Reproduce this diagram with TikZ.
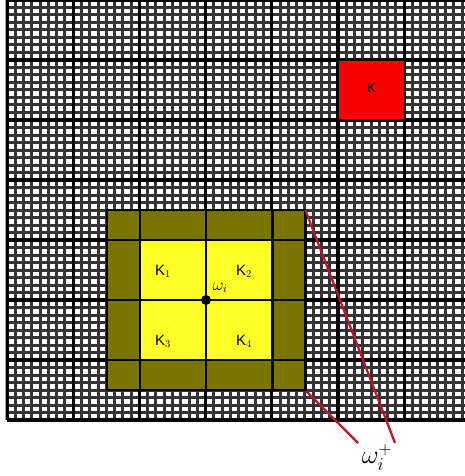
\RequirePackage{fix-cm}
\documentclass[tikz,border=0pt]{standalone}
\usepackage{fontspec}
\setmainfont{Liberation Sans}
\definecolor{olivebox}{RGB}{122,116,0}
\definecolor{yellowbox}{RGB}{255,255,40}
\definecolor{redbox}{RGB}{250,0,0}
\definecolor{redline}{RGB}{196,16,40}
\begin{document}
\begin{tikzpicture}[x=1pt,y=-1pt,
  fine/.style={line width=3pt,black!80},
  coarse/.style={line width=3.2pt,black},
  patchline/.style={line width=2.6pt,black},
  lbl/.style={font=\fontsize{15}{15}\selectfont,inner sep=0pt},
  conn/.style={redline,line width=2.2pt}]
\useasboundingbox (0,0) rectangle (464,476);
\fill[white] (0,0) rectangle (464,476);
\begin{scope}
\clip (5.5,-2) rectangle (466,421.5);
\foreach \i in {0,...,57} \draw[fine] ({7+\i*8.275},0) -- ({7+\i*8.275},420);
\foreach \j in {0,...,56} \draw[fine] (7,{420-\j*7.5}) -- (466,{420-\j*7.5});
\foreach \i in {0,...,7} \draw[coarse] ({7+\i*66.2},0) -- ({7+\i*66.2},420);
\foreach \j in {0,...,7} \draw[coarse] (7,{420-\j*60}) -- (466,{420-\j*60});
\end{scope}
% red K cell
\fill[redbox,draw=black,line width=1.5pt] (338.6,60) rectangle (404.8,120);
\node[font=\fontsize{13}{13}\selectfont] (k) at (371.5,88) {K};
% patch
\fill[olivebox] (106.7,210) rectangle (305.3,390);
\fill[yellowbox] (139.8,240) rectangle (272.2,360);
\foreach \x in {139.8,206,272.2} \draw[patchline] (\x,210) -- (\x,390);
\foreach \y in {240,300,360} \draw[patchline] (106.7,\y) -- (305.3,\y);
\draw[black,line width=2.4pt] (106.7,210) rectangle (305.3,390);
\node[lbl] (k1) at (163,271) {K$_1$};
\node[lbl] (k2) at (244,271) {K$_2$};
\node[lbl] (k3) at (163,341) {K$_3$};
\node[lbl] (k4) at (244,341) {K$_4$};
\fill[black] (206,300) circle (5);
\coordinate (wc) at (206,300);
\node[font=\fontsize{17}{17}\selectfont,inner sep=0pt] (wi) at (220,288) {$\omega_i$};
% zoom lines
\coordinate (tr) at (305.3,210);
\coordinate (br) at (306.5,391.5);
\coordinate (e1) at (395,443);
\coordinate (e2) at (358,443);
\draw[conn] (tr) -- (e1);
\draw[conn] (br) -- (e2);
\node[font=\fontsize{26}{26}\selectfont,inner sep=0pt] (wp) at (377,457) {$\omega_i^+$};
\end{tikzpicture}
\end{document}
